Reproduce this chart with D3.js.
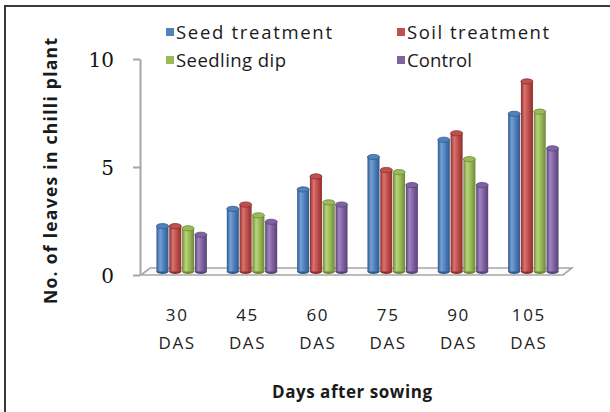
<!DOCTYPE html>
<html>
<head>
<meta charset="utf-8">
<script src="https://cdn.jsdelivr.net/npm/d3@7"></script>
<style>
  html, body { margin: 0; padding: 0; background: #fff; }
  svg { display: block; }
</style>
</head>
<body>
<svg id="chart" width="610" height="412"></svg>
<script>
// Number of leaves per chilli plant, by treatment and days after sowing
const categories = ["30", "45", "60", "75", "90", "105"];
const seriesNames = ["Seed treatment", "Soil treatment", "Seedling dip", "Control"];
const seedTreatment = [2.1, 2.9, 3.8, 5.3, 6.1, 7.3];
const soilTreatment = [2.1, 3.1, 4.4, 4.7, 6.4, 8.8];
const seedlingDip   = [2.0, 2.6, 3.2, 4.6, 5.2, 7.4];
const control       = [1.7, 2.3, 3.1, 4.0, 4.0, 5.7];
const yTicks = [0, 5, 10];
const categorySuffix = "DAS";

const seriesValues = [seedTreatment, soilTreatment, seedlingDip, control];
const palette = [
  { base: "#4F81BD", dark: "#30598c", light: "#76a0d6" },
  { base: "#C0504D", dark: "#8d2f2c", light: "#d9736f" },
  { base: "#9BBB59", dark: "#6d8838", light: "#b9d47f" },
  { base: "#8064A2", dark: "#5a4177", light: "#9f86c0" }
];

const svg = d3.select("#chart");
const font = "'Open Sans', 'DejaVu Sans', sans-serif";

// outer frame (left and top edges)
svg.append("path")
  .attr("d", "M5,412 V6 H610")
  .attr("fill", "none")
  .attr("stroke", "#3a3a3a")
  .attr("stroke-width", 2);

// 3-D depth offset of the floor
const depth = { dx: 9, dy: -7 };

const x = d3.scaleBand().domain(categories).range([142, 564]).paddingInner(0).paddingOuter(0);
const xInner = d3.scaleBand().domain(d3.range(seriesNames.length)).range([0, 50.4]).paddingInner(0.06);
const y = d3.scaleLinear().domain([0, 10]).range([275, 59]);

// gradients for cylinder bodies
const defs = svg.append("defs");
palette.forEach((c, i) => {
  const g = defs.append("linearGradient").attr("id", "cyl" + i)
    .attr("x1", 0).attr("x2", 1).attr("y1", 0).attr("y2", 0);
  g.append("stop").attr("offset", "0%").attr("stop-color", c.dark);
  g.append("stop").attr("offset", "30%").attr("stop-color", c.light);
  g.append("stop").attr("offset", "60%").attr("stop-color", c.base);
  g.append("stop").attr("offset", "100%").attr("stop-color", c.dark);
});

// floor
const fx0 = x.range()[0] - 1, fx1 = x.range()[1] - 1, fy = y(0);
svg.append("path")
  .attr("d", `M${fx0},${fy} L${fx1},${fy} L${fx1 + depth.dx},${fy + depth.dy} L${fx0 + depth.dx},${fy + depth.dy} Z`)
  .attr("fill", "#fbfbfb")
  .attr("stroke", "#a6a6a6")
  .attr("stroke-width", 1.6);

// value axis
const yAxis = svg.append("g")
  .attr("transform", "translate(140,0)")
  .call(d3.axisLeft(y).tickValues(yTicks).tickSize(7).tickSizeOuter(0).tickPadding(19));
yAxis.select(".domain").attr("stroke", "#a6a6a6").attr("stroke-width", 2);
yAxis.selectAll(".tick line").attr("stroke", "#a6a6a6").attr("stroke-width", 2);
yAxis.selectAll(".tick text")
  .attr("font-family", "'DejaVu Serif', 'Liberation Serif', serif")
  .attr("font-size", 20)
  .attr("fill", "#111")
  .attr("dy", "0.36em");

// category axis with two-line labels
const xAxis = svg.append("g")
  .attr("transform", `translate(0,${y(0)})`)
  .call(d3.axisBottom(x).tickSize(0).tickPadding(0));
xAxis.select(".domain").remove();
xAxis.selectAll(".tick text").each(function (d) {
  const t = d3.select(this);
  t.text(null)
    .attr("y", 0)
    .attr("dy", null)
    .attr("font-family", font)
    .attr("font-size", 17)
    .attr("letter-spacing", 1.6)
    .attr("fill", "#222");
  t.append("tspan").attr("x", 0).attr("y", 46).text(d);
  t.append("tspan").attr("x", 0).attr("y", 74).text(categorySuffix);
});

// cylinders
const barBottom = y(0) + depth.dy / 2;
const w = xInner.bandwidth();
const ry = 2.6;
const bars = [];
categories.forEach((cat, ci) => {
  seriesValues.forEach((vals, si) => {
    bars.push({ cat, si, v: vals[ci] });
  });
});
const barG = svg.append("g").selectAll("g").data(bars).join("g")
  .attr("transform", d => `translate(${x(d.cat) + (x.bandwidth() - 50.4) / 2 + xInner(d.si) + depth.dx / 2},0)`);
barG.append("ellipse")
  .attr("cx", w / 2).attr("cy", barBottom).attr("rx", w / 2).attr("ry", ry)
  .attr("fill", d => palette[d.si].dark);
barG.append("rect")
  .attr("x", 0).attr("width", w)
  .attr("y", d => y(d.v) + depth.dy / 2)
  .attr("height", d => barBottom - (y(d.v) + depth.dy / 2))
  .attr("fill", d => `url(#cyl${d.si})`);
barG.append("ellipse")
  .attr("cx", w / 2).attr("cy", d => y(d.v) + depth.dy / 2).attr("rx", w / 2).attr("ry", ry)
  .attr("fill", d => palette[d.si].base)
  .attr("stroke", d => palette[d.si].dark)
  .attr("stroke-width", 0.8);

// legend
const legendPos = [
  { x: 166, y: 28 }, { x: 397, y: 28 },
  { x: 166, y: 56 }, { x: 397, y: 56 }
];
const legendWidths = [156, 142, 110, 65];
const lg = svg.append("g").selectAll("g").data(seriesNames).join("g")
  .attr("transform", (d, i) => `translate(${legendPos[i].x},${legendPos[i].y})`);
lg.append("rect").attr("width", 8).attr("height", 8)
  .attr("fill", (d, i) => palette[i].base);
lg.append("text")
  .attr("x", 10).attr("y", 10.5)
  .attr("font-family", font)
  .attr("font-size", 18.5)
  .attr("fill", "#1a1a1a")
  .attr("textLength", (d, i) => legendWidths[i])
  .attr("lengthAdjust", "spacing")
  .text(d => d);

// axis titles
svg.append("text")
  .attr("x", 352).attr("y", 398)
  .attr("text-anchor", "middle")
  .attr("font-family", font)
  .attr("font-size", 17)
  .attr("font-weight", "bold")
  .attr("fill", "#1a1a1a")
  .attr("textLength", 160)
  .attr("lengthAdjust", "spacing")
  .text("Days after sowing");

svg.append("text")
  .attr("transform", "translate(57,171) rotate(-90)")
  .attr("text-anchor", "middle")
  .attr("font-family", font)
  .attr("font-size", 17.5)
  .attr("font-weight", "bold")
  .attr("fill", "#1a1a1a")
  .attr("textLength", 266)
  .attr("lengthAdjust", "spacing")
  .text("No. of leaves in chilli plant");
</script>
</body>
</html>
